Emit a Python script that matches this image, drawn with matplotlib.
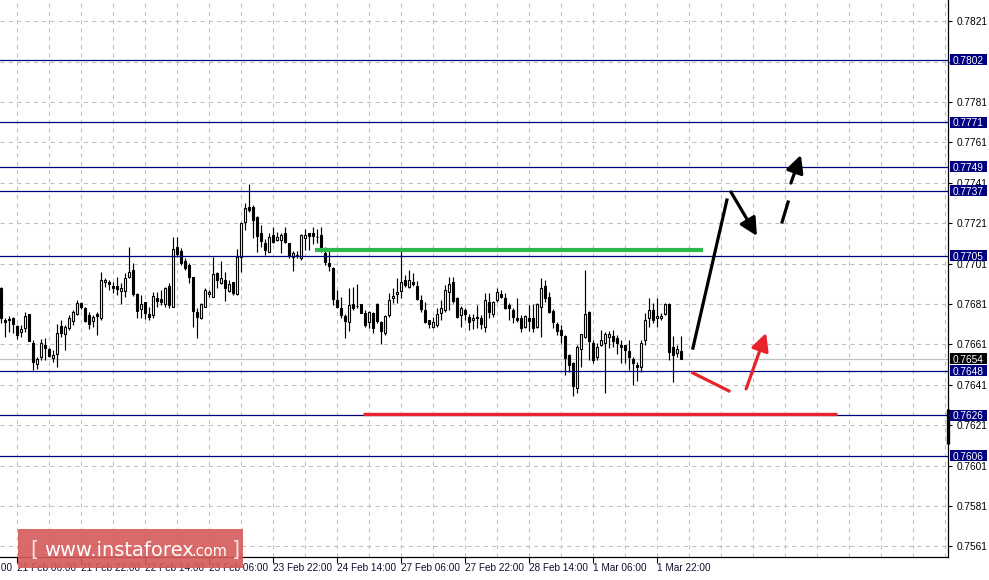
import matplotlib.pyplot as plt
from matplotlib.patches import Rectangle

# H1 candles, 21 Feb 02:00 .. 1 Mar 23:00 (bar index = hour number)
opens = [
    0.76889, 0.76731, 0.76736, 0.76741, 0.76701, 0.76672, 0.76691, 0.76761, 0.76617, 0.76513,
    0.76548, 0.76607, 0.76587, 0.76543, 0.76563, 0.76701, 0.76662, 0.76691, 0.76726, 0.76761,
    0.76815, 0.76791, 0.76756, 0.76726, 0.76761, 0.76741, 0.76919, 0.76919, 0.76899, 0.76899,
    0.76875, 0.76875, 0.76944, 0.76979, 0.76860, 0.76786, 0.76820, 0.76761, 0.76756, 0.76840,
    0.76835, 0.76810, 0.76899, 0.76796, 0.77093, 0.77073, 0.77023, 0.77003, 0.76944, 0.76771,
    0.76741, 0.76796, 0.76860, 0.76845, 0.76964, 0.76914, 0.76929, 0.76875, 0.76919, 0.76860,
    0.77043, 0.77216, 0.77291, 0.77291, 0.77241, 0.77162, 0.77112, 0.77068, 0.77152, 0.77127,
    0.77127, 0.77162, 0.77112, 0.77043, 0.77053, 0.77038, 0.77137, 0.77162, 0.77162, 0.77142,
    0.77152, 0.77063, 0.77013, 0.76989, 0.76830, 0.76791, 0.76751, 0.76721, 0.76810, 0.76800,
    0.76810, 0.76766, 0.76721, 0.76766, 0.76810, 0.76721, 0.76667, 0.76756, 0.76840, 0.76860,
    0.76875, 0.76929, 0.76894, 0.76919, 0.76899, 0.76830, 0.76781, 0.76731, 0.76696, 0.76706,
    0.76766, 0.76781, 0.76870, 0.76919, 0.76840, 0.76756, 0.76781, 0.76746, 0.76731, 0.76746,
    0.76741, 0.76696, 0.76820, 0.76761, 0.76830, 0.76860, 0.76840, 0.76805, 0.76781, 0.76741,
    0.76741, 0.76696, 0.76741, 0.76741, 0.76696, 0.76796, 0.76899, 0.76845, 0.76776, 0.76711,
    0.76682, 0.76652, 0.76558, 0.76518, 0.76395, 0.76587, 0.76647, 0.76771, 0.76617, 0.76548,
    0.76607, 0.76617, 0.76647, 0.76652, 0.76642, 0.76607, 0.76607, 0.76578, 0.76538, 0.76508,
    0.76499, 0.76632, 0.76741, 0.76781, 0.76741, 0.76741, 0.76761, 0.76810, 0.76597, 0.76568,
    0.76578,
]
highs = [
    0.76894, 0.76741, 0.76751, 0.76746, 0.76706, 0.76706, 0.76771, 0.76761, 0.76632, 0.76548,
    0.76637, 0.76642, 0.76592, 0.76583, 0.76711, 0.76731, 0.76706, 0.76756, 0.76781, 0.76830,
    0.76820, 0.76796, 0.76771, 0.76756, 0.76771, 0.76969, 0.76939, 0.76929, 0.76919, 0.76944,
    0.76914, 0.76964, 0.77093, 0.77013, 0.76865, 0.76855, 0.76820, 0.76796, 0.76870, 0.76870,
    0.76880, 0.76894, 0.76914, 0.77142, 0.77142, 0.77088, 0.77038, 0.77013, 0.76944, 0.76791,
    0.76815, 0.76889, 0.76880, 0.77043, 0.76969, 0.77023, 0.76969, 0.76929, 0.76919, 0.77083,
    0.77216, 0.77310, 0.77404, 0.77300, 0.77246, 0.77201, 0.77132, 0.77162, 0.77191, 0.77167,
    0.77162, 0.77191, 0.77112, 0.77073, 0.77073, 0.77157, 0.77181, 0.77162, 0.77191, 0.77181,
    0.77191, 0.77093, 0.77073, 0.76994, 0.76880, 0.76845, 0.76761, 0.76889, 0.76894, 0.76909,
    0.76810, 0.76781, 0.76776, 0.76771, 0.76815, 0.76726, 0.76756, 0.76865, 0.76889, 0.76939,
    0.77073, 0.76954, 0.76979, 0.76964, 0.76924, 0.76855, 0.76820, 0.76731, 0.76746, 0.76791,
    0.76830, 0.76904, 0.76944, 0.76944, 0.76845, 0.76800, 0.76791, 0.76761, 0.76761, 0.76805,
    0.76756, 0.76865, 0.76865, 0.76825, 0.76889, 0.76880, 0.76865, 0.76815, 0.76791, 0.76840,
    0.76756, 0.76756, 0.76805, 0.76810, 0.76815, 0.76939, 0.76929, 0.76870, 0.76786, 0.76721,
    0.76706, 0.76657, 0.76563, 0.76523, 0.76607, 0.76662, 0.76979, 0.76776, 0.76632, 0.76617,
    0.76682, 0.76672, 0.76677, 0.76682, 0.76657, 0.76632, 0.76607, 0.76632, 0.76548, 0.76523,
    0.76632, 0.76766, 0.76840, 0.76815, 0.76840, 0.76766, 0.76815, 0.76815, 0.76652, 0.76607,
    0.76652,
]
lows = [
    0.76716, 0.76647, 0.76672, 0.76667, 0.76637, 0.76647, 0.76672, 0.76627, 0.76484, 0.76489,
    0.76533, 0.76533, 0.76548, 0.76523, 0.76499, 0.76647, 0.76583, 0.76682, 0.76706, 0.76756,
    0.76786, 0.76721, 0.76686, 0.76696, 0.76657, 0.76731, 0.76894, 0.76880, 0.76865, 0.76855,
    0.76810, 0.76845, 0.76939, 0.76850, 0.76741, 0.76741, 0.76736, 0.76731, 0.76741, 0.76796,
    0.76805, 0.76796, 0.76791, 0.76796, 0.77043, 0.77003, 0.76979, 0.76914, 0.76696, 0.76642,
    0.76736, 0.76796, 0.76845, 0.76845, 0.76889, 0.76909, 0.76825, 0.76870, 0.76855, 0.76855,
    0.76969, 0.77177, 0.77266, 0.77137, 0.77068, 0.77093, 0.77053, 0.77068, 0.77112, 0.77122,
    0.77063, 0.77112, 0.77038, 0.76974, 0.77038, 0.77028, 0.77078, 0.77078, 0.77107, 0.77112,
    0.77068, 0.77003, 0.76974, 0.76805, 0.76791, 0.76741, 0.76642, 0.76677, 0.76781, 0.76791,
    0.76766, 0.76696, 0.76691, 0.76667, 0.76716, 0.76612, 0.76657, 0.76746, 0.76815, 0.76815,
    0.76840, 0.76894, 0.76889, 0.76899, 0.76830, 0.76771, 0.76716, 0.76691, 0.76691, 0.76696,
    0.76731, 0.76771, 0.76781, 0.76815, 0.76741, 0.76696, 0.76731, 0.76682, 0.76686, 0.76691,
    0.76686, 0.76672, 0.76741, 0.76746, 0.76820, 0.76840, 0.76786, 0.76731, 0.76716, 0.76721,
    0.76672, 0.76691, 0.76677, 0.76672, 0.76691, 0.76647, 0.76820, 0.76766, 0.76691, 0.76657,
    0.76617, 0.76459, 0.76474, 0.76355, 0.76370, 0.76499, 0.76642, 0.76533, 0.76518, 0.76533,
    0.76602, 0.76370, 0.76592, 0.76597, 0.76563, 0.76518, 0.76518, 0.76484, 0.76409, 0.76429,
    0.76474, 0.76607, 0.76696, 0.76716, 0.76696, 0.76731, 0.76756, 0.76533, 0.76424, 0.76548,
    0.76538,
]
closes = [
    0.76741, 0.76721, 0.76731, 0.76711, 0.76657, 0.76686, 0.76751, 0.76627, 0.76523, 0.76538,
    0.76617, 0.76592, 0.76553, 0.76558, 0.76667, 0.76667, 0.76696, 0.76741, 0.76771, 0.76815,
    0.76796, 0.76726, 0.76711, 0.76746, 0.76751, 0.76929, 0.76929, 0.76909, 0.76889, 0.76884,
    0.76889, 0.76939, 0.76969, 0.76860, 0.76776, 0.76810, 0.76766, 0.76746, 0.76850, 0.76825,
    0.76820, 0.76889, 0.76805, 0.77083, 0.77058, 0.77013, 0.76989, 0.76944, 0.76776, 0.76746,
    0.76810, 0.76880, 0.76870, 0.76959, 0.76929, 0.76939, 0.76889, 0.76909, 0.76865, 0.77043,
    0.77211, 0.77286, 0.77276, 0.77226, 0.77147, 0.77122, 0.77078, 0.77142, 0.77117, 0.77142,
    0.77152, 0.77117, 0.77048, 0.77063, 0.77050, 0.77152, 0.77152, 0.77147, 0.77147, 0.77140,
    0.77078, 0.77018, 0.76998, 0.76835, 0.76796, 0.76756, 0.76726, 0.76805, 0.76791, 0.76800,
    0.76766, 0.76706, 0.76771, 0.76691, 0.76726, 0.76677, 0.76751, 0.76830, 0.76850, 0.76870,
    0.76919, 0.76904, 0.76929, 0.76909, 0.76835, 0.76786, 0.76721, 0.76711, 0.76721, 0.76761,
    0.76791, 0.76880, 0.76909, 0.76825, 0.76746, 0.76791, 0.76761, 0.76721, 0.76741, 0.76743,
    0.76711, 0.76830, 0.76771, 0.76820, 0.76870, 0.76845, 0.76791, 0.76791, 0.76746, 0.76731,
    0.76691, 0.76751, 0.76726, 0.76691, 0.76810, 0.76889, 0.76840, 0.76771, 0.76721, 0.76677,
    0.76657, 0.76543, 0.76508, 0.76405, 0.76597, 0.76662, 0.76761, 0.76627, 0.76533, 0.76597,
    0.76632, 0.76662, 0.76662, 0.76627, 0.76617, 0.76597, 0.76583, 0.76548, 0.76518, 0.76499,
    0.76617, 0.76731, 0.76781, 0.76731, 0.76751, 0.76751, 0.76810, 0.76573, 0.76558, 0.76587,
    0.76540,
]

time_labels = ["20 Feb 14:00", "21 Feb 06:00", "21 Feb 22:00", "22 Feb 14:00",
               "23 Feb 06:00", "23 Feb 22:00", "24 Feb 14:00", "27 Feb 06:00",
               "27 Feb 22:00", "28 Feb 14:00", "1 Mar 06:00", "1 Mar 22:00"]
time_label_bars = [-12, 4, 20, 36, 52, 68, 84, 100, 116, 132, 148, 164]

price_ticks = [0.7561, 0.7581, 0.7601, 0.7621, 0.7641, 0.7661, 0.7681,
               0.7701, 0.7721, 0.7741, 0.7761, 0.7781, 0.7801, 0.7821]
hidden_ticks = [0.7801]   # sits under the 0.7802 price box
level_prices = [0.7802, 0.7771, 0.7749, 0.7737, 0.7705, 0.7648, 0.7626, 0.7606]
current_price = 0.7654

# drawn analysis objects (bar index, price)
green_x = [78.4, 175.4]
green_price = 0.77078
red_x = [90.4, 208.9]
red_price = 0.76268
black_line_x = [172.9, 181.4]
black_line_y = [0.76592, 0.77325]
black_arrow1 = [(182.4, 0.77365), (188.9, 0.77147)]
black_dash_x = [195.2, 196.7]
black_dash_y = [0.77216, 0.77315]
black_arrow2 = [(197.4, 0.77409), (199.9, 0.77548)]
red_line_x = [172.9, 181.9]
red_line_y = [0.76469, 0.76380]
red_arrow = [(186.2, 0.76390), (191.2, 0.76667)]
axis_bar_y = [0.76291, 0.76117]

plt.rcParams['font.family'] = ['Liberation Sans', 'DejaVu Sans']

W, H = 989, 580
fig = plt.figure(figsize=(W / 100, H / 100), dpi=100)
ax = fig.add_axes([0, 23 / H, 948 / W, 557 / H])
x0, x1 = -0.325, 236.675
y0, y1 = 0.75558, 0.78315
ax.set_xlim(x0, x1)
ax.set_ylim(y0, y1)

grid_c = '#c0c0c0'
for xg in range(4, 237, 8):
    ax.axvline(xg, color=grid_c, lw=0.75, dashes=(4, 4), zorder=0)
for yg in price_ticks:
    ax.axhline(yg, color=grid_c, lw=0.75, dashes=(4, 4), zorder=0)

ax.axhline(current_price, color='#c0c0c0', lw=0.9, zorder=1)

# candles
xs = list(range(len(opens)))
ax.vlines(xs, lows, highs, color='black', lw=0.85, zorder=2)
bottoms = [min(o, c) for o, c in zip(opens, closes)]
heights = [abs(c - o) for o, c in zip(opens, closes)]
faces = ['white' if c >= o else 'black' for o, c in zip(opens, closes)]
ax.bar(xs, heights, bottom=bottoms, width=0.5, color=faces,
       edgecolor='black', linewidth=0.8, zorder=3)

for p in level_prices:
    ax.axhline(p, color='#000080', lw=0.9, zorder=4)

ax.plot(green_x, [green_price] * 2, color='#2db84c', lw=3, solid_capstyle='butt', zorder=5)
ax.plot(red_x, [red_price] * 2, color='#e8232b', lw=2.4, solid_capstyle='butt', zorder=5)
ax.plot(black_line_x, black_line_y, color='black', lw=2.3, zorder=5)
ax.plot(black_dash_x, black_dash_y, color='black', lw=2.3, zorder=5)
ax.plot(red_line_x, red_line_y, color='#e8232b', lw=2.3, zorder=5)
for (a, b), col in [(black_arrow1, 'black'), (black_arrow2, 'black'), (red_arrow, '#e8232b')]:
    ax.annotate('', xy=b, xytext=a, zorder=5,
                arrowprops=dict(arrowstyle='-|>,head_length=0.75,head_width=0.38',
                                color=col, lw=2.3, mutation_scale=14,
                                shrinkA=0, shrinkB=0))

# axes styling
for s in ['top', 'left']:
    ax.spines[s].set_visible(False)
for s in ['right', 'bottom']:
    ax.spines[s].set_linewidth(0.9)
    ax.spines[s].set_color('black')
ax.yaxis.tick_right()
ax.set_yticks(price_ticks)
ax.set_yticklabels(['' if p in hidden_ticks else f'{p:.4f}' for p in price_ticks])
ax.tick_params(axis='y', length=3, width=0.8, labelsize=7.3, pad=3, colors='black')
ax.set_xticks([b for b in time_label_bars if x0 <= b <= x1])
ax.set_xticklabels([])
ax.tick_params(axis='x', length=4, width=0.8)

xt = ax.get_xaxis_transform()
for b, lab in zip(time_label_bars, time_labels):
    ax.text(b - 0.1, -6 / 557, lab, transform=xt, ha='left', va='top',
            fontsize=7.2, color='#101030', clip_on=False)

# price boxes on the scale
yt = ax.get_yaxis_transform()
box_h = (y1 - y0) * 11 / 557
for p, col in [(q, '#000080') for q in level_prices] + [(current_price, 'black')]:
    ax.add_patch(Rectangle((950 / 948, p - box_h / 2), 37 / 948, box_h, transform=yt,
                           facecolor=col, edgecolor='none', clip_on=False, zorder=6))
    ax.text(952.5 / 948, p, f'{p:.4f}', transform=yt, color='white', fontsize=7.3,
            ha='left', va='center_baseline', clip_on=False, zorder=7)

ax.plot([x1, x1], axis_bar_y, color='black', lw=2.4, solid_capstyle='butt',
        clip_on=False, zorder=6)

# watermark
fig.add_artist(Rectangle((18 / W, 1 - 568 / H), 225 / W, 39 / H, transform=fig.transFigure,
                         facecolor='#d65a5a', edgecolor='none', alpha=0.9, zorder=10))
base = 1 - 556 / H
fig.text(30 / W, base, '[', fontsize=15, color='#f6e0e0', family='DejaVu Sans',
         va='baseline', zorder=11)
fig.text(44 / W, base, 'www.instaforex', fontsize=14, color='white',
         family='DejaVu Sans', va='baseline', zorder=11)
fig.text(191 / W, base, '.com', fontsize=10.5, color='white',
         family='DejaVu Sans', va='baseline', zorder=11)
fig.text(232 / W, base, ']', fontsize=15, color='#f6e0e0', family='DejaVu Sans',
         va='baseline', zorder=11)

fig.savefig('out.png', dpi=100)
